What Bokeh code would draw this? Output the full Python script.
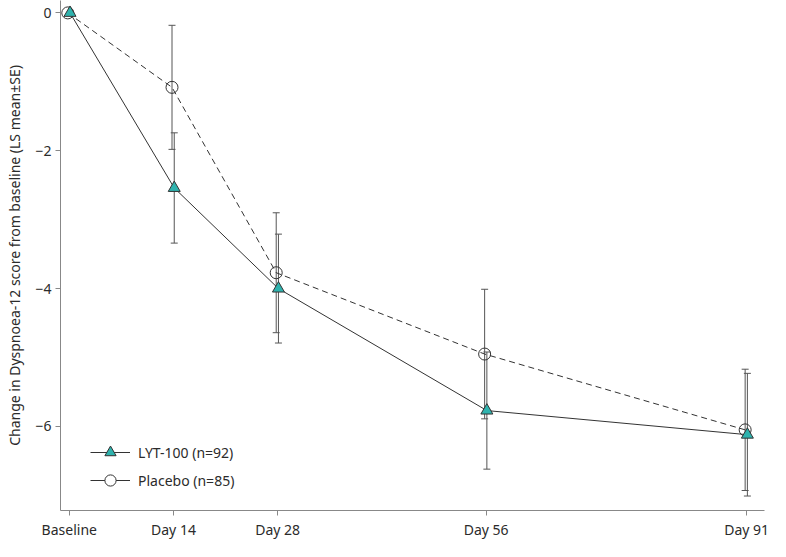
from bokeh.plotting import figure
from bokeh.models import ColumnDataSource, Whisker, TeeHead, Legend, LegendItem, Range1d
from bokeh.embed import file_html
from bokeh.resources import INLINE

# data
days = [0, 14, 28, 56, 91]
day_labels = ["Baseline", "Day 14", "Day 28", "Day 56", "Day 91"]
lyt_mean = [0, -2.54, -4.00, -5.77, -6.12]
lyt_se = [0, 0.80, 0.79, 0.85, 0.89]
pbo_mean = [0, -1.08, -3.77, -4.95, -6.05]
pbo_se = [0, 0.90, 0.87, 0.94, 0.88]
y_ticks = [0, -2, -4, -6]

FONT = "Noto Sans"
TEXT = "#2b2b2b"
TEAL = "#2fb3ae"
NAN = float("nan")

p = figure(width=770, height=541, output_backend="svg", toolbar_location=None,
           x_range=Range1d(-1.18, 93.4), y_range=Range1d(-7.22, 0.18),
           frame_width=704, frame_height=510,
           min_border_left=60, min_border_right=6, min_border_top=0,
           min_border_bottom=31)
p.outline_line_color = None
p.xgrid.visible = False
p.ygrid.visible = False

lyt_x = [d + 0.1 for d in days]
pbo_x = [d - 0.2 for d in days]

# connecting lines
p.line(pbo_x, pbo_mean, line_color="#333333", line_width=1, line_dash="6 4")
p.line(lyt_x, lyt_mean, line_color="#333333", line_width=1)

# error bars (mean +/- SE), baseline has none
for xs, m, se in [(pbo_x, pbo_mean, pbo_se), (lyt_x, lyt_mean, lyt_se)]:
    src = ColumnDataSource(dict(
        x=xs[1:],
        upper=[a + b for a, b in zip(m[1:], se[1:])],
        lower=[a - b for a, b in zip(m[1:], se[1:])],
    ))
    w = Whisker(source=src, base="x", upper="upper", lower="lower",
                line_color="#555555", line_width=1,
                upper_head=TeeHead(size=7, line_color="#555555", line_width=1),
                lower_head=TeeHead(size=7, line_color="#555555", line_width=1))
    p.add_layout(w)

p.scatter(pbo_x, pbo_mean, marker="circle", size=12, fill_color=None,
          line_color="#333333", line_width=1)
p.scatter(lyt_x, lyt_mean, marker="triangle", size=12, fill_color=TEAL,
          line_color="#333333", line_width=1)

# legend glyphs (solid lines with markers), no visible data
l1 = p.line([NAN], [NAN], line_color="#333333", line_width=1)
m1 = p.scatter([NAN], [NAN], marker="triangle", size=12, fill_color=TEAL,
               line_color="#333333")
l2 = p.line([NAN], [NAN], line_color="#333333", line_width=1)
m2 = p.scatter([NAN], [NAN], marker="circle", size=12, fill_color="white",
               line_color="#333333")
legend = Legend(items=[LegendItem(label="LYT-100 (n=92)", renderers=[l1, m1]),
                       LegendItem(label="Placebo (n=85)", renderers=[l2, m2])],
                location=(30, 16), background_fill_alpha=0, border_line_color=None,
                label_text_font=FONT, label_text_font_size="14px",
                label_text_color=TEXT, glyph_width=40, glyph_height=28,
                label_height=28, spacing=0, padding=4, margin=0, label_standoff=8)
p.add_layout(legend)

# axes
p.xaxis.ticker = days
p.xaxis.major_label_overrides = {d: lab for d, lab in zip(days, day_labels)}
p.yaxis.ticker = y_ticks
p.yaxis.major_label_overrides = {t: ("\u2212" + str(-t) if t < 0 else str(t)) for t in y_ticks}
p.yaxis.axis_label = "Change in Dyspnoea-12 score from baseline (LS mean\u00b1SE)"

for ax in (p.xaxis[0], p.yaxis[0]):
    ax.axis_line_color = "#888888"
    ax.major_tick_line_color = "#888888"
    ax.major_tick_out = 5
    ax.major_tick_in = 0
    ax.minor_tick_out = 0
    ax.minor_tick_in = 0
    ax.major_label_text_font = FONT
    ax.major_label_text_font_size = "14px"
    ax.major_label_text_color = TEXT
    ax.major_label_standoff = 4
    ax.axis_label_text_font = FONT
    ax.axis_label_text_font_size = "14px"
    ax.axis_label_text_font_style = "normal"
    ax.axis_label_text_color = TEXT
    ax.axis_label_standoff = 8

open("out.html", "w").write(file_html(p, INLINE))
